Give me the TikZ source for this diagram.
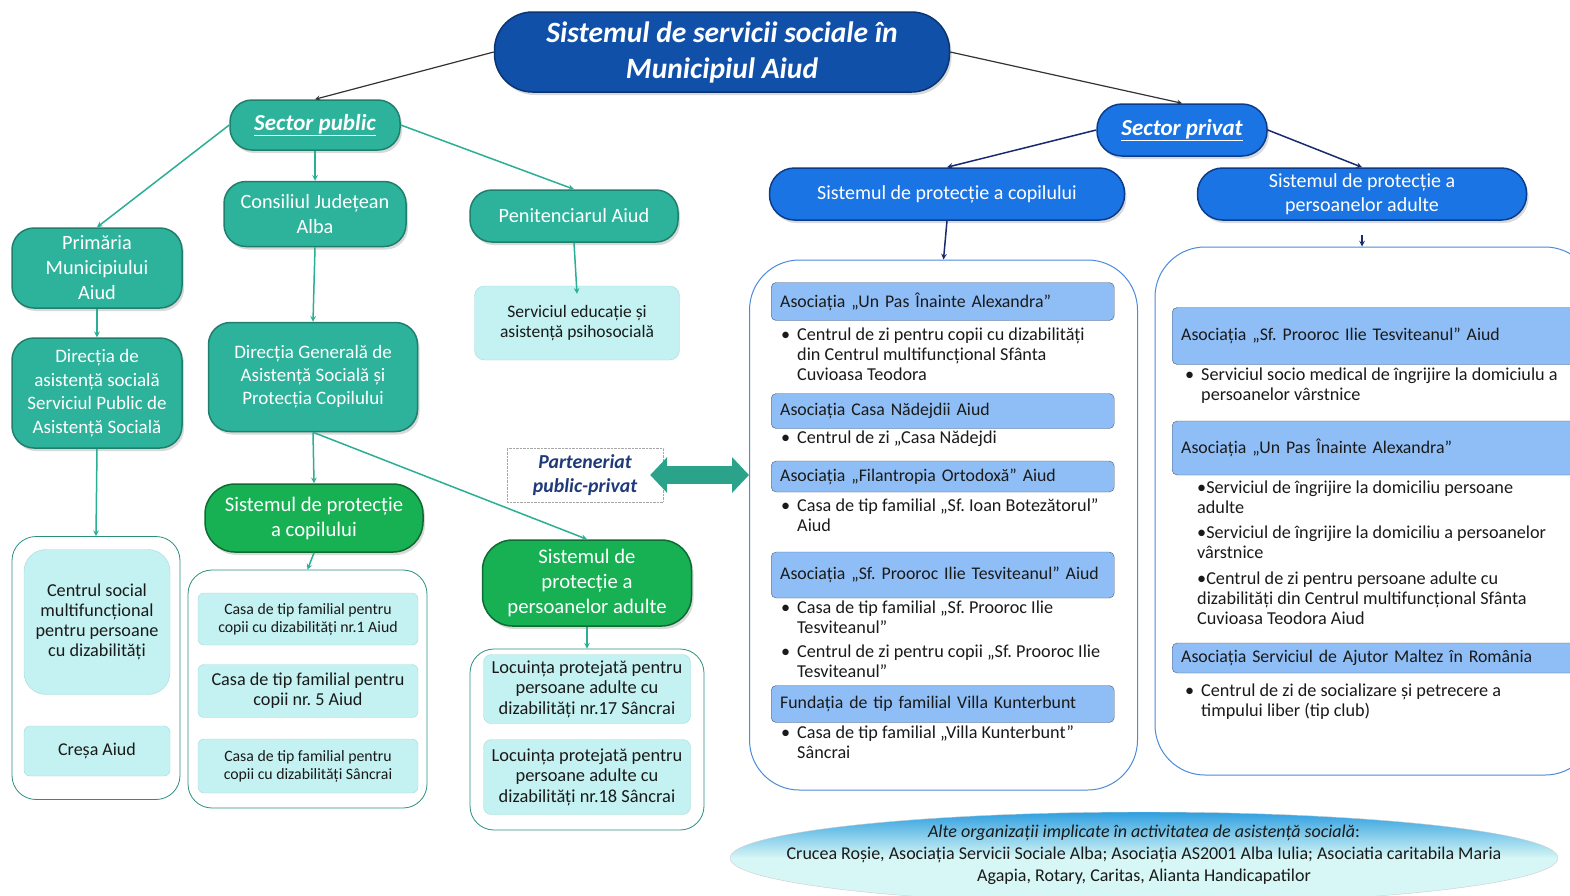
\documentclass[tikz,border=0pt]{standalone}
\usepackage{fontspec}
\setmainfont{Carlito}
\usetikzlibrary{shapes.geometric,arrows.meta,shadows}
\definecolor{titleblue}{HTML}{1050A8}
\definecolor{titledark}{HTML}{0A3572}
\definecolor{teal}{HTML}{2DB39B}
\definecolor{tealdark}{HTML}{1F7F6C}
\definecolor{tealline}{HTML}{2AAE94}
\definecolor{grn}{HTML}{17B153}
\definecolor{grndark}{HTML}{0E6B33}
\definecolor{privblue}{HTML}{1B74E4}
\definecolor{privdark}{HTML}{0B3C8C}
\definecolor{navy}{HTML}{1A2A70}
\definecolor{darkline}{HTML}{333333}
\definecolor{aqua}{HTML}{C4F1F1}
\definecolor{aquaedge}{HTML}{A5DADA}
\definecolor{holdedge}{HTML}{2A8F7C}
\definecolor{paneledge}{HTML}{4A8BDB}
\definecolor{hdrblue}{HTML}{8FBEF6}
\definecolor{hdrdark}{HTML}{4A5A75}
\definecolor{inkgrey}{HTML}{1A1A1A}
\definecolor{partnavy}{HTML}{1F3A7A}
\definecolor{partgreen}{HTML}{2BA38A}
\definecolor{ellblue}{HTML}{2F9FE0}
\definecolor{ellpale}{HTML}{D6F7F5}

\begin{document}
\frenchspacing
\begin{tikzpicture}[x=1pt,y=-1pt,>=stealth,
    pill/.style={rounded corners=22pt, align=center, text=white, draw, line width=1.5pt,
      drop shadow={shadow xshift=2pt, shadow yshift=-3pt, opacity=0.3}},
    pubpill/.style={pill, fill=teal, draw=tealdark, font=\fontsize{20.3}{25}\selectfont},
    greenpill/.style={pill, rounded corners=30pt, fill=grn, draw=grndark, font=\fontsize{20.7}{25}\selectfont},
    privpill/.style={pill, rounded corners=25pt, fill=privblue, draw=privdark, font=\fontsize{20}{24}\selectfont},
    aquabox/.style={rounded corners=10pt, fill=aqua, draw=aquaedge, align=center, text=inkgrey,
      font=\fontsize{17.5}{20}\selectfont},
    holder/.style={draw=holdedge, rounded corners=24pt, line width=0.8pt},
    panel/.style={draw=paneledge, rounded corners=50pt, line width=1pt},
    hdr/.style={anchor=west, draw=hdrdark, fill=hdrblue, rounded corners=5pt, align=left,
      inner xsep=9pt, text=inkgrey, font=\fontsize{17.8}{20}\selectfont},
    item/.style={anchor=west, align=left, inner sep=0pt, text=inkgrey,
      font=\fontsize{18.2}{19.8}\selectfont},
    partbox/.style={draw=gray!70, densely dotted, fill=white, align=center, text=partnavy,
      font=\fontsize{19.8}{24}\selectfont\bfseries\itshape},
    partarrow/.style={line width=18pt, draw=partgreen,
      arrows={Triangle[length=17pt,width=35pt]-Triangle[length=17pt,width=35pt]}},
    pubarrow/.style={->, draw=tealline, line width=1.5pt},
    privarrow/.style={->, draw=navy, line width=1.5pt},
    toparrow/.style={->, draw=darkline, line width=1.2pt}]
  \clip (0,0) rectangle (1570,895);

  % top of the tree
  \node [pill, fill=titleblue, draw=titledark, rounded corners=38pt, minimum width=455pt, minimum height=80pt,
    font=\fontsize{29.5}{36}\selectfont\bfseries\itshape] (title) at (722,52) {Sistemul de servicii sociale în\\Municipiul Aiud};
  \node [pubpill, minimum width=170pt, minimum height=50pt, font=\fontsize{23}{26}\selectfont\bfseries\itshape] (pub) at (315,125) {\underline{Sector public}};
  \node [privpill, minimum width=170pt, minimum height=52pt, font=\fontsize{23}{26}\selectfont\bfseries\itshape] (priv) at (1182,130) {\underline{Sector privat}};
  \draw [toparrow] (title.west) -- (pub.north);
  \draw [toparrow] (title.east) -- (priv.north);

  % public sector
  \node [pubpill, minimum width=170pt, minimum height=80pt] (prim) at (97,268) {Primăria\\Municipiului\\Aiud};
  \node [pubpill, minimum width=182pt, minimum height=65pt] (cj) at (315,214) {Consiliul Județean\\Alba};
  \node [pubpill, minimum width=208pt, minimum height=52pt] (pen) at (574,216) {Penitenciarul Aiud};
  \node [pubpill, minimum width=170pt, minimum height=110pt, font=\fontsize{19}{23.5}\selectfont] (das) at (97,393) {Direcția de\\asistență socială\\Serviciul Public de\\Asistență Socială};
  \node [pubpill, minimum width=209pt, minimum height=109pt, font=\fontsize{19}{23}\selectfont] (dgas) at (313,377) {Direcția Generală de\\Asistență Socială și\\Protecția Copilului};
  \node [aquabox, minimum width=205pt, minimum height=74pt] (sedu) at (577,323) {Serviciul educație și\\asistență psihosocială};
  \draw [pubarrow] (pub.west) -- (prim.north);
  \draw [pubarrow] (pub.south) -- (cj.north);
  \draw [pubarrow] (pub.east) -- (pen.north);
  \draw [pubarrow] (prim.south) -- (das.north);
  \draw [pubarrow] (cj.south) -- (dgas.north);
  \draw [pubarrow] (pen.south) -- ([yshift=-8pt]sedu.north);

  \node [greenpill, minimum width=218pt, minimum height=68pt] (gcop) at (314,518) {Sistemul de protecție\\a copilului};
  \node [greenpill, minimum width=209pt, minimum height=86pt] (gad) at (587,583) {Sistemul de\\protecție a\\persoanelor adulte};
  \draw [pubarrow] (dgas.south) -- (gcop.north);
  \draw [pubarrow] (dgas.south) -- (gad.north);

  \node [holder, minimum width=168pt, minimum height=263pt] (hold1) at (96,668) {};
  \node [aquabox, minimum width=146pt, minimum height=145pt, rounded corners=22pt, font=\fontsize{18.2}{20}\selectfont] (csm) at (97,622) {Centrul social\\multifuncțional\\pentru persoane\\cu dizabilități};
  \node [aquabox, minimum width=146pt, minimum height=50pt, rounded corners=6pt, font=\fontsize{18}{20}\selectfont] (cresa) at (97,751) {Creșa Aiud};
  \draw [pubarrow] (das.south) -- (hold1.north);

  \node [holder, minimum width=239pt, minimum height=238pt] (hold2) at (307.5,689) {};
  \node [aquabox, minimum width=220pt, minimum height=52pt, rounded corners=6pt, font=\fontsize{15.8}{18}\selectfont] (casa1) at (308,619) {Casa de tip familial pentru\\copii cu dizabilități nr.1 Aiud};
  \node [aquabox, minimum width=220pt, minimum height=53pt, rounded corners=6pt, font=\fontsize{18.2}{20}\selectfont] (casa5) at (308,691) {Casa de tip familial pentru\\copii nr. 5 Aiud};
  \node [aquabox, minimum width=220pt, minimum height=54pt, rounded corners=6pt, font=\fontsize{15.8}{18}\selectfont] (casa3) at (308,766) {Casa de tip familial pentru\\copii cu dizabilități Sâncrai};
  \draw [pubarrow] (gcop.south) -- (hold2.north);

  \node [holder, minimum width=234pt, minimum height=181pt] (hold3) at (587,739.5) {};
  \node [aquabox, minimum width=207pt, minimum height=69pt, rounded corners=8pt, font=\fontsize{18.4}{20.5}\selectfont] (loc17) at (587,689) {Locuința protejată pentru\\persoane adulte cu\\dizabilități nr.17 Sâncrai};
  \node [aquabox, minimum width=207pt, minimum height=75pt, rounded corners=8pt, font=\fontsize{18.4}{20.5}\selectfont] (loc18) at (587,777) {Locuința protejată pentru\\persoane adulte cu\\dizabilități nr.18 Sâncrai};
  \draw [pubarrow] (gad.south) -- (hold3.north);

  % private sector
  \node [privpill, minimum width=355pt, minimum height=52pt] (pcop) at (947,194) {Sistemul de protecție a copilului};
  \node [privpill, minimum width=329pt, minimum height=52pt] (pad) at (1362,194) {Sistemul de protecție a\\persoanelor adulte};
  \draw [privarrow] (priv.west) -- (pcop.north);
  \draw [privarrow] (priv.east) -- (pad.north);

  \node [panel, minimum width=388pt, minimum height=530pt] (pan1) at (943.5,525) {};
  \node [panel, minimum width=440pt, minimum height=528pt] (pan2) at (1375,511) {};
  \draw [privarrow] (pcop.south) -- (pan1.north);
  \draw [privarrow, shorten <=14pt] (pad.south) -- (pad.south |- pan2.north);

  \node [hdr, text width=325pt, minimum height=38pt] (h11) at (771,301.5) {Asociația „Un Pas Înainte Alexandra”};
  \node [item] (i11) at (797,354) {\llap{\textbullet\hspace{7pt}}Centrul de zi pentru copii cu dizabilități\\din Centrul multifuncțional Sfânta\\Cuvioasa Teodora};
  \node [hdr, text width=325pt, minimum height=35pt] (h12) at (771,411) {Asociația Casa Nădejdii Aiud};
  \node [item] (i12) at (797,439) {\llap{\textbullet\hspace{7pt}}Centrul de zi „Casa Nădejdi};
  \node [hdr, text width=325pt, minimum height=31pt] (h13) at (771,476.5) {Asociația „Filantropia Ortodoxă” Aiud};
  \node [item] (i13) at (797,515) {\llap{\textbullet\hspace{7pt}}Casa de tip familial „Sf. Ioan Botezătorul”\\Aiud};
  \node [hdr, text width=325pt, minimum height=46pt] (h14) at (771,575) {Asociația „Sf. Prooroc Ilie Tesviteanul” Aiud};
  \node [item] (i14) at (797,617) {\llap{\textbullet\hspace{7pt}}Casa de tip familial „Sf. Prooroc Ilie\\Tesviteanul”};
  \node [item] (i15) at (797,661) {\llap{\textbullet\hspace{7pt}}Centrul de zi pentru copii „Sf. Prooroc Ilie\\Tesviteanul”};
  \node [hdr, text width=325pt, minimum height=37pt] (h15) at (771,704) {Fundația de tip familial Villa Kunterbunt};
  \node [item] (i16) at (797,742.5) {\llap{\textbullet\hspace{7pt}}Casa de tip familial „Villa Kunterbunt”\\Sâncrai};

  \node [hdr, text width=390pt, minimum height=57pt] (h21) at (1172,336) {Asociația „Sf. Prooroc Ilie Tesviteanul” Aiud};
  \node [item] (i21) at (1201,386) {\llap{\textbullet\hspace{7pt}}Serviciul socio medical de îngrijire la domiciulu a\\persoanelor vârstnice};
  \node [hdr, text width=390pt, minimum height=54pt] (h22) at (1172,448) {Asociația „Un Pas Înainte Alexandra”};
  \node [item] (i22) at (1197,497) {\textbullet Serviciul de îngrijire la domiciliu persoane\\adulte};
  \node [item] (i23) at (1197,542.5) {\textbullet Serviciul de îngrijire la domiciliu a persoanelor\\vârstnice};
  \node [item] (i24) at (1197,598) {\textbullet Centrul de zi pentru persoane adulte cu\\dizabilități din Centrul multifuncțional Sfânta\\Cuvioasa Teodora Aiud};
  \node [hdr, text width=390pt, minimum height=30pt] (h23) at (1172,658) {Asociația Serviciul de Ajutor Maltez în România};
  \node [item] (i25) at (1201,702) {\llap{\textbullet\hspace{7pt}}Centrul de zi de socializare și petrecere a\\timpului liber (tip club)};

  % partnership
  \node [partbox, minimum width=156pt, minimum height=54pt] (part) at (585,475) {Parteneriat\\public-privat};
  \draw [partarrow] ([xshift=-13pt]part.east) -- (part.east -| pan1.west);

  % other organisations
  \shade [top color=ellblue, bottom color=ellpale, middle color=ellpale, draw=gray!40] (1144,858) ellipse [x radius=414, y radius=46];
  \node [align=center, text=inkgrey, font=\fontsize{18}{22}\selectfont] (alte) at (1144,855)
    {\textit{Alte organizații implicate în activitatea de asistență socială}:\\Crucea Roșie, Asociația Servicii Sociale Alba; Asociația AS2001 Alba Iulia; Asociatia caritabila Maria\\Agapia, Rotary, Caritas, Alianta Handicapatilor};
\end{tikzpicture}
\end{document}
